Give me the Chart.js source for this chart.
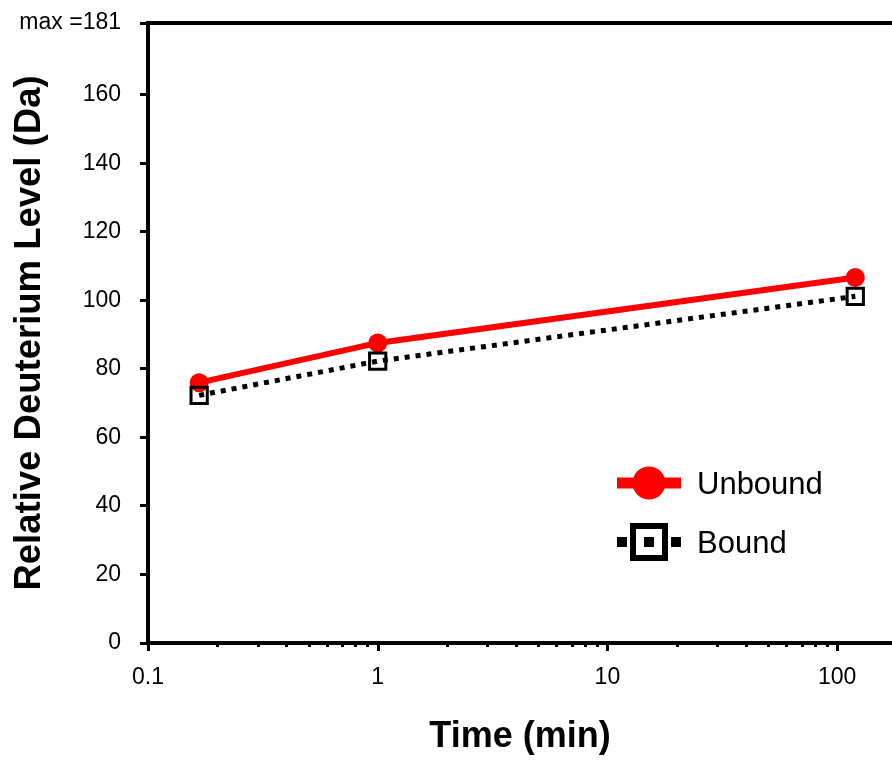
<!DOCTYPE html>
<html>
<head>
<meta charset="utf-8">
<script src="https://cdn.jsdelivr.net/npm/chart.js@4.4.1/dist/chart.umd.min.js"></script>
<style>
  html, body { margin: 0; padding: 0; background: #fff; overflow: hidden; }
  #wrap { width: 892px; height: 763px; }
</style>
</head>
<body>
<div id="wrap"><canvas id="myChart" width="892" height="763"></canvas></div>
<script>
const FONT = "'Liberation Sans', Arial, sans-serif";

const timePoints = [0.167, 1, 120];
const unboundLevels = [76.0, 87.6, 106.7];
const boundLevels = [72.3, 82.3, 101.2];
const xTickValues = [0.1, 1, 10, 100];
const yTickValues = [0, 20, 40, 60, 80, 100, 120, 140, 160, 181];
const seriesNames = ['Unbound', 'Bound'];

function toPoints(values) {
  return values.map((v, i) => ({ x: timePoints[i], y: v }));
}

// top frame line, log minor ticks and the legend
const extrasPlugin = {
  id: 'extras',
  afterDraw(chart) {
    const ctx = chart.ctx;
    const area = chart.chartArea;
    const xs = chart.scales.x;
    ctx.save();

    ctx.strokeStyle = '#000';
    ctx.lineWidth = 4;
    ctx.beginPath();
    ctx.moveTo(area.left - 2, area.top);
    ctx.lineTo(area.right, area.top);
    ctx.stroke();

    ctx.lineWidth = 3;
    for (let dec = 0.1; dec <= 100; dec *= 10) {
      for (let m = 1; m <= 9; m++) {
        const v = dec * m;
        if (v > xs.max) break;
        const px = Math.round(xs.getPixelForValue(v)) + 0.5;
        const len = m === 1 ? 8 : 4;
        ctx.beginPath();
        ctx.moveTo(px, area.bottom);
        ctx.lineTo(px, area.bottom + len);
        ctx.stroke();
      }
    }

    // legend
    const lx = area.left + 469;
    const rows = [area.top + 460, area.top + 519];
    ctx.font = '31px ' + FONT;
    ctx.textBaseline = 'middle';

    // Unbound
    ctx.strokeStyle = '#ff0000';
    ctx.lineWidth = 11;
    ctx.beginPath();
    ctx.moveTo(lx, rows[0]);
    ctx.lineTo(lx + 64, rows[0]);
    ctx.stroke();
    ctx.fillStyle = '#ff0000';
    ctx.beginPath();
    ctx.arc(lx + 32, rows[0], 16.5, 0, Math.PI * 2);
    ctx.fill();
    ctx.fillStyle = '#000';
    ctx.fillText(seriesNames[0], lx + 80, rows[0] + 2);

    // Bound
    ctx.fillStyle = '#000';
    ctx.fillRect(lx, rows[1] - 5, 10, 10);
    ctx.fillRect(lx + 54, rows[1] - 5, 10, 10);
    ctx.fillRect(lx + 27, rows[1] - 5, 10, 10);
    ctx.lineWidth = 6;
    ctx.strokeStyle = '#000';
    ctx.strokeRect(lx + 16, rows[1] - 16, 32, 32);
    ctx.fillText(seriesNames[1], lx + 80, rows[1] + 2);

    ctx.restore();
  }
};

const data = {
  datasets: [
    {
      label: seriesNames[0],
      data: toPoints(unboundLevels),
      borderColor: '#ff0000',
      borderWidth: 6,
      pointStyle: 'circle',
      pointRadius: 9.5,
      pointBackgroundColor: '#ff0000',
      pointBorderColor: '#ff0000',
      pointBorderWidth: 0,
      order: 2
    },
    {
      label: seriesNames[1],
      data: toPoints(boundLevels),
      borderColor: '#000',
      borderWidth: 5,
      borderDash: [5, 6],
      pointStyle: 'rect',
      pointRadius: 11.5,
      pointBackgroundColor: 'rgba(0,0,0,0)',
      pointBorderColor: '#000',
      pointBorderWidth: 3,
      order: 1
    }
  ]
};

const config = {
  type: 'line',
  data: data,
  plugins: [extrasPlugin],
  options: {
    responsive: false,
    animation: false,
    layout: { autoPadding: false, padding: { top: 23, right: 0, left: 0, bottom: 0 } },
    plugins: {
      legend: { display: false },
      tooltip: { enabled: false },
      title: { display: false }
    },
    scales: {
      x: {
        type: 'logarithmic',
        min: 0.1,
        max: 173.4,
        afterBuildTicks: (scale) => { scale.ticks = xTickValues.map(v => ({ value: v })); },
        afterFit: (scale) => {
          scale.height = 120;
          scale.paddingLeft = 0;
          scale.paddingRight = 0;
        },
        grid: { display: false },
        border: { display: true, color: '#000', width: 4 },
        ticks: {
          color: '#000',
          font: { family: FONT, size: 23 },
          padding: 13,
          maxRotation: 0,
          autoSkip: false,
          callback: (v) => String(v)
        },
        title: {
          display: true,
          text: 'Time (min)',
          color: '#000',
          font: { family: FONT, size: 36, weight: 'bold' },
          padding: { top: 4, bottom: 4 }
        }
      },
      y: {
        min: 0,
        max: 181,
        afterBuildTicks: (scale) => { scale.ticks = yTickValues.map(v => ({ value: v })); },
        afterFit: (scale) => {
          scale.width = 148;
          scale.paddingTop = 0;
          scale.paddingBottom = 0;
        },
        grid: { drawOnChartArea: false, tickLength: 8, tickWidth: 3, tickColor: '#000' },
        border: { display: true, color: '#000', width: 4 },
        ticks: {
          color: '#000',
          font: { family: FONT, size: 23 },
          padding: 19,
          autoSkip: false,
          callback: (v) => (v === 181 ? 'max =181' : String(v))
        },
        title: {
          display: true,
          text: 'Relative Deuterium Level (Da)',
          color: '#000',
          font: { family: FONT, size: 36.5, weight: 'bold' },
          padding: { top: 8, bottom: 8 }
        }
      }
    }
  }
};

const ctx = document.getElementById('myChart').getContext('2d');
const chart = new Chart(ctx, config);
</script>
</body>
</html>
